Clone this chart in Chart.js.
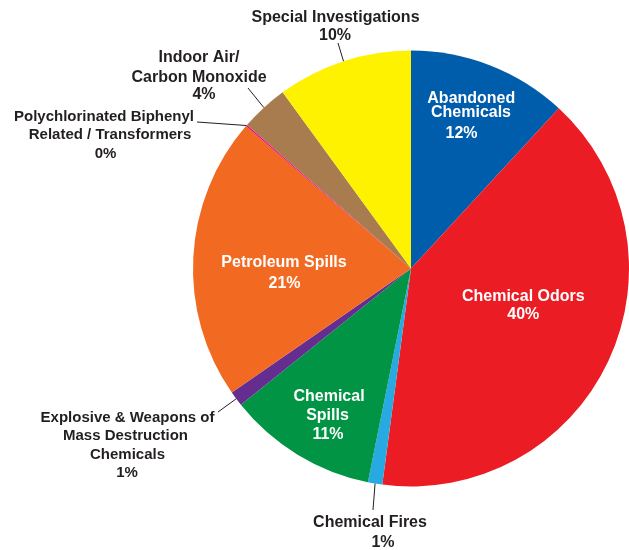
<!DOCTYPE html>
<html><head><meta charset="utf-8">
<script src="https://cdn.jsdelivr.net/npm/chart.js@4"></script>
<style>html,body{margin:0;padding:0;background:#fff}#wrap{width:629px;height:550px;position:relative}</style>
</head><body><div id="wrap"><canvas id="c"></canvas></div>
<script>
// ---- data ----
const categories = ["Abandoned Chemicals","Chemical Odors","Chemical Fires","Chemical Spills","Explosive & Weapons of Mass Destruction Chemicals","Petroleum Spills","Polychlorinated Biphenyl Related / Transformers","Indoor Air/ Carbon Monoxide","Special Investigations"];
const shares = [11.86, 40.24, 1.07, 11.08, 1.11, 20.97, 0.11, 3.54, 10.02];
const percentLabels = ["12%","40%","1%","11%","1%","21%","0%","4%","10%"];
const labelLines = [["Abandoned","Chemicals"],["Chemical Odors"],["Chemical Fires"],["Chemical","Spills"],["Explosive & Weapons of","Mass Destruction","Chemicals"],["Petroleum Spills"],["Polychlorinated Biphenyl","Related / Transformers"],["Indoor Air/","Carbon Monoxide"],["Special Investigations"]];

// ---- styles / layout ----
const colors = ["#005dab","#ec1c24","#27aae1","#009444","#662d91","#f26a21","#ec008c","#a97c50","#fff200"];
const inside = [true,true,false,true,false,true,false,false,false];
const fontSizes = [16,16,16,16,15,16,15,16,16];
// per-line text centres, offsets from the pie centre (px)
const linePos = [
  [[60.3,-171.5],[60,-157],[50.5,-136.5]],
  [[112.3,26.5],[112.3,44.8]],
  [[-41,253.2],[-28,273.2]],
  [[-82,127.2],[-83.5,145.5],[-83,164.5]],
  [[-283.5,148.5],[-285.5,166.5],[-283.5,185],[-284,203.5]],
  [[-127,-7.5],[-126.5,13.5]],
  [[-307,-152.5],[-301,-134.5],[-305.5,-115.5]],
  [[-212,-212],[-212,-192.5],[-207,-175.5]],
  [[-75.5,-252.5],[-76,-234]]
];
// leader line end points, offsets from the pie centre (px)
const leaderEnd = {2:[-38,241.5],4:[-193,143.5],6:[-214,-146.5],7:[-163,-180.5],8:[-73,-225.5]};

const labelPlugin = {
  id:'labels',
  afterDatasetsDraw(chart){
    const ctx = chart.ctx;
    const arcs = chart.getDatasetMeta(0).data;
    ctx.save();
    arcs.forEach((arc,i)=>{
      const p = arc.getProps(['x','y','startAngle','endAngle','outerRadius'],true);
      const cx=p.x, cy=p.y, R=p.outerRadius;
      if (leaderEnd[i]){
        const mid=(p.startAngle+p.endAngle)/2;
        ctx.beginPath();
        ctx.strokeStyle='#231f20'; ctx.lineWidth=1;
        ctx.moveTo(cx+R*Math.cos(mid), cy+R*Math.sin(mid));
        ctx.lineTo(cx+leaderEnd[i][0], cy+leaderEnd[i][1]);
        ctx.stroke();
      }
      const fs = fontSizes[i];
      const lines = labelLines[i].concat([percentLabels[i]]);
      ctx.font='bold '+fs+'px "Liberation Sans", Arial, Helvetica, sans-serif';
      ctx.textAlign='center'; ctx.textBaseline='alphabetic';
      ctx.fillStyle = inside[i] ? '#ffffff' : '#231f20';
      lines.forEach((t,j)=>{
        const pos=linePos[i][j];
        ctx.fillText(t, cx+pos[0], cy+pos[1]+0.358*fs);
      });
    });
    ctx.restore();
  }
};

new Chart(document.getElementById('c'),{
  type:'pie',
  data:{labels:categories,datasets:[{data:shares,backgroundColor:colors,borderWidth:0,hoverOffset:0}]},
  options:{
    responsive:true, maintainAspectRatio:false, animation:false,
    layout:{padding:{left:193,right:0,top:50.5,bottom:63.5}},
    plugins:{legend:{display:false},tooltip:{enabled:false}},
    events:[]
  },
  plugins:[labelPlugin]
});
</script></body></html>
